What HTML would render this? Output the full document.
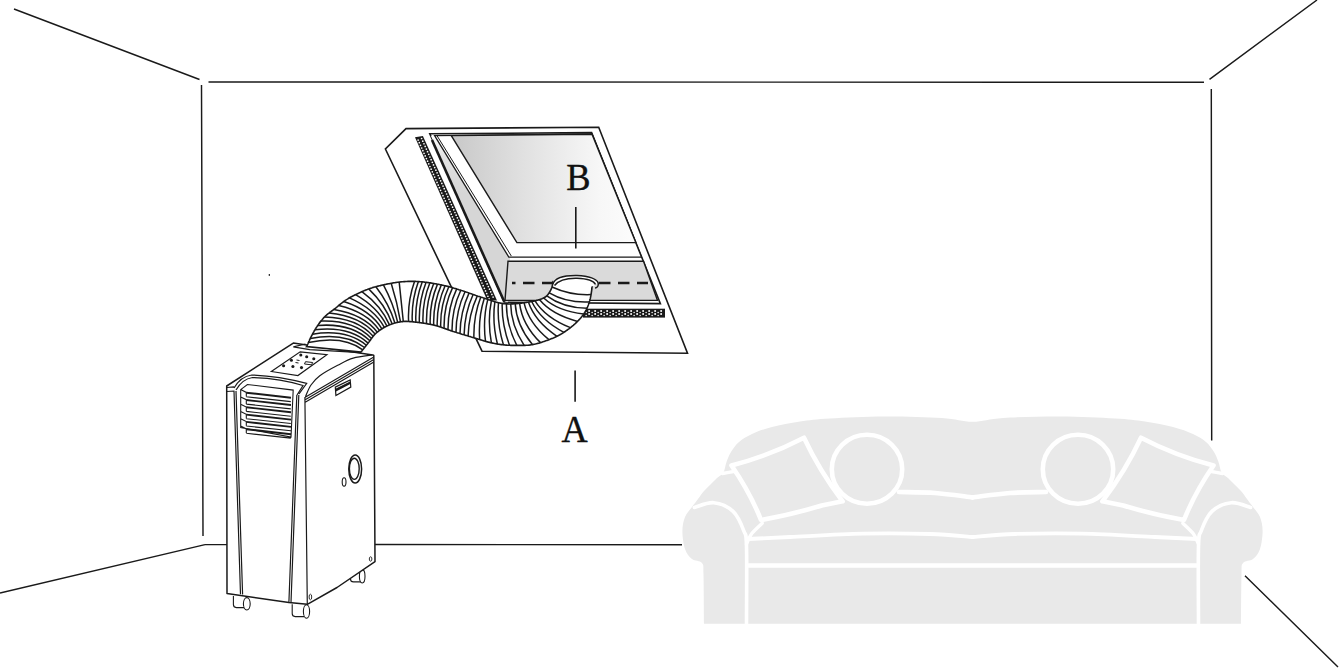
<!DOCTYPE html>
<html><head><meta charset="utf-8"><style>
html,body{margin:0;padding:0;background:#fff;width:1339px;height:671px;overflow:hidden}
svg{display:block}
</style></head><body>
<svg width="1339" height="671" viewBox="0 0 1339 671">
<path d="M14,9 L199.5,79.5 M208.5,82 L1204,82.2 M1209.5,79.3 L1317,0 M201.5,85 L203,536 M1211.3,89 L1211.7,440.5 M0,593 L205,544.6 M205,544.6 L227,544.6 M374,544.5 L682,544.8 M1245,575.8 L1338,667" stroke="#1a1a1a" stroke-width="1.45" fill="none"/>
<rect x="268.7" y="274.1" width="1.3" height="1.7" fill="#1a1a1a"/>
<path d="M704.0,623.8 C703.9,615.7 703.8,585.1 703.5,575.0 C703.2,564.9 703.9,565.7 702.0,563.0 C700.1,560.3 694.8,561.3 692.0,559.0 C689.2,556.7 686.6,553.7 685.0,549.0 C683.4,544.3 682.4,536.3 682.4,531.0 C682.4,525.7 683.4,521.0 685.0,517.0 C686.6,513.0 689.8,510.0 692.0,507.0 C694.2,504.0 696.0,501.7 698.0,499.0 C700.0,496.3 702.0,493.3 704.0,491.0 C706.0,488.7 707.8,487.2 710.0,485.0 C712.2,482.8 714.8,480.1 717.0,478.0 C719.2,475.9 721.8,475.2 723.4,472.5 C725.0,469.8 725.2,465.4 726.5,462.0 C727.8,458.6 728.9,455.3 731.0,452.0 C733.1,448.7 735.5,445.0 739.0,442.0 C742.5,439.0 746.5,436.5 752.0,434.0 C757.5,431.5 764.0,429.1 772.0,427.0 C780.0,424.9 790.3,422.9 800.0,421.5 C809.7,420.1 815.9,419.3 830.0,418.5 C844.1,417.7 865.9,416.6 884.5,416.5 C903.1,416.4 927.0,417.1 941.7,418.0 C956.4,418.9 962.2,421.8 972.5,421.8 C982.8,421.8 988.6,418.9 1003.3,418.0 C1018.0,417.1 1041.9,416.4 1060.5,416.5 C1079.1,416.6 1100.9,417.7 1115.0,418.5 C1129.1,419.3 1135.3,420.1 1145.0,421.5 C1154.7,422.9 1165.0,424.9 1173.0,427.0 C1181.0,429.1 1187.5,431.5 1193.0,434.0 C1198.5,436.5 1202.5,439.0 1206.0,442.0 C1209.5,445.0 1211.9,448.7 1214.0,452.0 C1216.1,455.3 1217.2,458.6 1218.5,462.0 C1219.8,465.4 1220.0,469.8 1221.6,472.5 C1223.2,475.2 1225.8,475.9 1228.0,478.0 C1230.2,480.1 1232.8,482.8 1235.0,485.0 C1237.2,487.2 1239.0,488.7 1241.0,491.0 C1243.0,493.3 1245.0,496.3 1247.0,499.0 C1249.0,501.7 1250.8,504.0 1253.0,507.0 C1255.2,510.0 1258.4,513.0 1260.0,517.0 C1261.6,521.0 1262.6,525.7 1262.6,531.0 C1262.6,536.3 1261.6,544.3 1260.0,549.0 C1258.4,553.7 1255.8,556.7 1253.0,559.0 C1250.2,561.3 1244.9,560.3 1243.0,563.0 C1241.1,565.7 1241.8,564.9 1241.5,575.0 C1241.2,585.1 1241.1,615.7 1241.0,623.8 Z" fill="#e9e9e9"/>
<path d="M694.4,507.5 C697.6,506.7 707.3,502.1 713.8,502.7 C720.2,503.3 728.1,506.7 733.1,511.4 C738.1,516.1 741.6,525.0 743.8,530.8 C746.0,536.6 746.0,530.8 746.5,546.3 C747.0,561.8 746.5,610.9 746.5,623.8" stroke="#ffffff" stroke-width="3.6" fill="none" stroke-linecap="round"/>
<path d="M1250.6,507.5 C1247.4,506.7 1237.7,502.1 1231.2,502.7 C1224.8,503.3 1216.9,506.7 1211.9,511.4 C1206.9,516.1 1203.4,525.0 1201.2,530.8 C1199.0,536.6 1199.0,530.8 1198.5,546.3 C1198.0,561.8 1198.5,610.9 1198.5,623.8" stroke="#ffffff" stroke-width="3.6" fill="none" stroke-linecap="round"/>
<path d="M748.0,539.0 C755.0,538.7 770.8,537.9 790.0,537.0 C809.2,536.1 839.7,534.2 863.0,533.7 C886.3,533.2 911.8,533.5 930.0,534.0 C948.2,534.5 965.4,536.5 972.5,537.0" stroke="#ffffff" stroke-width="3.8" fill="none" stroke-linecap="round"/>
<path d="M1197.0,539.0 C1190.0,538.7 1174.2,537.9 1155.0,537.0 C1135.8,536.1 1105.3,534.2 1082.0,533.7 C1058.7,533.2 1033.2,533.5 1015.0,534.0 C996.8,534.5 979.6,536.5 972.5,537.0" stroke="#ffffff" stroke-width="3.8" fill="none" stroke-linecap="round"/>
<path d="M747,565.5 L1198,565.5" stroke="#ffffff" stroke-width="4.6" fill="none"/>
<path d="M899.0,492.0 C905.0,492.2 922.8,492.1 935.0,493.0 C947.2,493.9 966.2,496.7 972.5,497.4" stroke="#ffffff" stroke-width="4.6" fill="none" stroke-linecap="round"/>
<path d="M1046.0,492.0 C1040.0,492.2 1022.2,492.1 1010.0,493.0 C997.8,493.9 978.8,496.7 972.5,497.4" stroke="#ffffff" stroke-width="4.6" fill="none" stroke-linecap="round"/>
<path d="M762.2,523.2 C760.5,524.9 754.4,530.1 751.8,533.6 C749.2,537.1 747.4,542.3 746.5,544.0" stroke="#ffffff" stroke-width="3.4" fill="none" stroke-linecap="round"/>
<path d="M1182.8,523.2 C1184.5,524.9 1190.6,530.1 1193.2,533.6 C1195.8,537.1 1197.6,542.3 1198.5,544.0" stroke="#ffffff" stroke-width="3.4" fill="none" stroke-linecap="round"/>
<path d="M722.5,473.5 C724.6,473.1 732.9,471.7 735.0,471.3" stroke="#ffffff" stroke-width="3.5" fill="none" stroke-linecap="round"/>
<path d="M1222.5,473.5 C1220.4,473.1 1212.1,471.7 1210.0,471.3" stroke="#ffffff" stroke-width="3.5" fill="none" stroke-linecap="round"/>
<path d="M731.5,465.5 Q769.75,455.6 804,437.7 Q819.3,470.5 842.6,501.3 L821.7,505.5 Q791.35,514.75 761,520 Q750.25,492.75 731.5,465.5 Z" stroke="#ffffff" stroke-width="4.6" fill="#e9e9e9" stroke-linejoin="round"/>
<g transform="translate(1945.0,0) scale(-1,1)"><path d="M731.5,465.5 Q769.75,455.6 804,437.7 Q819.3,470.5 842.6,501.3 L821.7,505.5 Q791.35,514.75 761,520 Q750.25,492.75 731.5,465.5 Z" stroke="#ffffff" stroke-width="4.6" fill="#e9e9e9" stroke-linejoin="round"/></g>
<ellipse cx="867" cy="469.2" rx="35.2" ry="34.5" stroke="#ffffff" stroke-width="4.6" fill="#e9e9e9"/>
<ellipse cx="1078.0" cy="469.2" rx="35.2" ry="34.5" stroke="#ffffff" stroke-width="4.6" fill="#e9e9e9"/>
<defs><pattern id="perf" width="3" height="3.2" patternUnits="userSpaceOnUse"><rect width="3" height="3.2" fill="#1a1a1a"/><circle cx="0.75" cy="0.8" r="0.8" fill="#fff"/><circle cx="2.25" cy="2.4" r="0.75" fill="#fff"/></pattern><pattern id="perf2" width="3" height="3.2" patternUnits="userSpaceOnUse" patternTransform="rotate(-23)"><rect width="3" height="3.2" fill="#1a1a1a"/><circle cx="0.75" cy="0.8" r="0.8" fill="#fff"/><circle cx="2.25" cy="2.4" r="0.75" fill="#fff"/></pattern><linearGradient id="glass" x1="0" y1="0" x2="1" y2="0"><stop offset="0" stop-color="#c8c8c8"/><stop offset="0.38" stop-color="#e0e0e0"/><stop offset="0.8" stop-color="#f7f7f7"/><stop offset="1" stop-color="#fcfcfc"/></linearGradient></defs>
<polygon points="406,128.6 598.7,127.2 687.5,353.3 482,351.2 385.4,149" fill="#fff" stroke="#1a1a1a" stroke-width="1.6" stroke-linejoin="miter"/>
<polygon points="415,137.3 422.9,136.1 497,300.5 487.3,300.5" fill="#1a1a1a"/>
<g fill="#fff"><circle cx="421.59" cy="138.48" r="0.85"/><circle cx="418.12" cy="140.04" r="0.85"/><circle cx="422.78" cy="141.13" r="0.85"/><circle cx="419.30" cy="142.69" r="0.85"/><circle cx="423.97" cy="143.77" r="0.85"/><circle cx="420.49" cy="145.33" r="0.85"/><circle cx="425.16" cy="146.41" r="0.85"/><circle cx="421.67" cy="147.98" r="0.85"/><circle cx="426.35" cy="149.06" r="0.85"/><circle cx="422.85" cy="150.63" r="0.85"/><circle cx="427.55" cy="151.70" r="0.85"/><circle cx="424.03" cy="153.28" r="0.85"/><circle cx="428.74" cy="154.35" r="0.85"/><circle cx="425.22" cy="155.92" r="0.85"/><circle cx="429.93" cy="156.99" r="0.85"/><circle cx="426.40" cy="158.57" r="0.85"/><circle cx="431.12" cy="159.63" r="0.85"/><circle cx="427.58" cy="161.22" r="0.85"/><circle cx="432.31" cy="162.28" r="0.85"/><circle cx="428.77" cy="163.87" r="0.85"/><circle cx="433.50" cy="164.92" r="0.85"/><circle cx="429.95" cy="166.52" r="0.85"/><circle cx="434.70" cy="167.56" r="0.85"/><circle cx="431.13" cy="169.16" r="0.85"/><circle cx="435.89" cy="170.21" r="0.85"/><circle cx="432.31" cy="171.81" r="0.85"/><circle cx="437.08" cy="172.85" r="0.85"/><circle cx="433.50" cy="174.46" r="0.85"/><circle cx="438.27" cy="175.50" r="0.85"/><circle cx="434.68" cy="177.11" r="0.85"/><circle cx="439.46" cy="178.14" r="0.85"/><circle cx="435.86" cy="179.76" r="0.85"/><circle cx="440.65" cy="180.78" r="0.85"/><circle cx="437.04" cy="182.40" r="0.85"/><circle cx="441.85" cy="183.43" r="0.85"/><circle cx="438.23" cy="185.05" r="0.85"/><circle cx="443.04" cy="186.07" r="0.85"/><circle cx="439.41" cy="187.70" r="0.85"/><circle cx="444.23" cy="188.72" r="0.85"/><circle cx="440.59" cy="190.35" r="0.85"/><circle cx="445.42" cy="191.36" r="0.85"/><circle cx="441.78" cy="193.00" r="0.85"/><circle cx="446.61" cy="194.00" r="0.85"/><circle cx="442.96" cy="195.64" r="0.85"/><circle cx="447.80" cy="196.65" r="0.85"/><circle cx="444.14" cy="198.29" r="0.85"/><circle cx="449.00" cy="199.29" r="0.85"/><circle cx="445.32" cy="200.94" r="0.85"/><circle cx="450.19" cy="201.94" r="0.85"/><circle cx="446.51" cy="203.59" r="0.85"/><circle cx="451.38" cy="204.58" r="0.85"/><circle cx="447.69" cy="206.23" r="0.85"/><circle cx="452.57" cy="207.22" r="0.85"/><circle cx="448.87" cy="208.88" r="0.85"/><circle cx="453.76" cy="209.87" r="0.85"/><circle cx="450.05" cy="211.53" r="0.85"/><circle cx="454.95" cy="212.51" r="0.85"/><circle cx="451.24" cy="214.18" r="0.85"/><circle cx="456.14" cy="215.15" r="0.85"/><circle cx="452.42" cy="216.83" r="0.85"/><circle cx="457.34" cy="217.80" r="0.85"/><circle cx="453.60" cy="219.47" r="0.85"/><circle cx="458.53" cy="220.44" r="0.85"/><circle cx="454.79" cy="222.12" r="0.85"/><circle cx="459.72" cy="223.09" r="0.85"/><circle cx="455.97" cy="224.77" r="0.85"/><circle cx="460.91" cy="225.73" r="0.85"/><circle cx="457.15" cy="227.42" r="0.85"/><circle cx="462.10" cy="228.37" r="0.85"/><circle cx="458.33" cy="230.07" r="0.85"/><circle cx="463.29" cy="231.02" r="0.85"/><circle cx="459.52" cy="232.71" r="0.85"/><circle cx="464.49" cy="233.66" r="0.85"/><circle cx="460.70" cy="235.36" r="0.85"/><circle cx="465.68" cy="236.31" r="0.85"/><circle cx="461.88" cy="238.01" r="0.85"/><circle cx="466.87" cy="238.95" r="0.85"/><circle cx="463.06" cy="240.66" r="0.85"/><circle cx="468.06" cy="241.59" r="0.85"/><circle cx="464.25" cy="243.30" r="0.85"/><circle cx="469.25" cy="244.24" r="0.85"/><circle cx="465.43" cy="245.95" r="0.85"/><circle cx="470.44" cy="246.88" r="0.85"/><circle cx="466.61" cy="248.60" r="0.85"/><circle cx="471.64" cy="249.53" r="0.85"/><circle cx="467.79" cy="251.25" r="0.85"/><circle cx="472.83" cy="252.17" r="0.85"/><circle cx="468.98" cy="253.90" r="0.85"/><circle cx="474.02" cy="254.81" r="0.85"/><circle cx="470.16" cy="256.54" r="0.85"/><circle cx="475.21" cy="257.46" r="0.85"/><circle cx="471.34" cy="259.19" r="0.85"/><circle cx="476.40" cy="260.10" r="0.85"/><circle cx="472.53" cy="261.84" r="0.85"/><circle cx="477.59" cy="262.74" r="0.85"/><circle cx="473.71" cy="264.49" r="0.85"/><circle cx="478.79" cy="265.39" r="0.85"/><circle cx="474.89" cy="267.14" r="0.85"/><circle cx="479.98" cy="268.03" r="0.85"/><circle cx="476.07" cy="269.78" r="0.85"/><circle cx="481.17" cy="270.68" r="0.85"/><circle cx="477.26" cy="272.43" r="0.85"/><circle cx="482.36" cy="273.32" r="0.85"/><circle cx="478.44" cy="275.08" r="0.85"/><circle cx="483.55" cy="275.96" r="0.85"/><circle cx="479.62" cy="277.73" r="0.85"/><circle cx="484.74" cy="278.61" r="0.85"/><circle cx="480.80" cy="280.38" r="0.85"/><circle cx="485.93" cy="281.25" r="0.85"/><circle cx="481.99" cy="283.02" r="0.85"/><circle cx="487.13" cy="283.90" r="0.85"/><circle cx="483.17" cy="285.67" r="0.85"/><circle cx="488.32" cy="286.54" r="0.85"/><circle cx="484.35" cy="288.32" r="0.85"/><circle cx="489.51" cy="289.18" r="0.85"/><circle cx="485.54" cy="290.97" r="0.85"/><circle cx="490.70" cy="291.83" r="0.85"/><circle cx="486.72" cy="293.61" r="0.85"/><circle cx="491.89" cy="294.47" r="0.85"/><circle cx="487.90" cy="296.26" r="0.85"/><circle cx="493.08" cy="297.11" r="0.85"/><circle cx="489.08" cy="298.91" r="0.85"/></g>
<rect x="583" y="308.7" width="82" height="8.9" fill="#1a1a1a"/>
<g fill="#fff"><circle cx="583.10" cy="310.9" r="1.0"/><circle cx="583.10" cy="314.1" r="1.0"/><circle cx="586.10" cy="312.5" r="0.75"/><circle cx="586.10" cy="315.6" r="0.75"/><circle cx="589.10" cy="310.9" r="1.0"/><circle cx="589.10" cy="314.1" r="1.0"/><circle cx="592.10" cy="312.5" r="0.75"/><circle cx="592.10" cy="315.6" r="0.75"/><circle cx="595.10" cy="310.9" r="1.0"/><circle cx="595.10" cy="314.1" r="1.0"/><circle cx="598.10" cy="312.5" r="0.75"/><circle cx="598.10" cy="315.6" r="0.75"/><circle cx="601.10" cy="310.9" r="1.0"/><circle cx="601.10" cy="314.1" r="1.0"/><circle cx="604.10" cy="312.5" r="0.75"/><circle cx="604.10" cy="315.6" r="0.75"/><circle cx="607.10" cy="310.9" r="1.0"/><circle cx="607.10" cy="314.1" r="1.0"/><circle cx="610.10" cy="312.5" r="0.75"/><circle cx="610.10" cy="315.6" r="0.75"/><circle cx="613.10" cy="310.9" r="1.0"/><circle cx="613.10" cy="314.1" r="1.0"/><circle cx="616.10" cy="312.5" r="0.75"/><circle cx="616.10" cy="315.6" r="0.75"/><circle cx="619.10" cy="310.9" r="1.0"/><circle cx="619.10" cy="314.1" r="1.0"/><circle cx="622.10" cy="312.5" r="0.75"/><circle cx="622.10" cy="315.6" r="0.75"/><circle cx="625.10" cy="310.9" r="1.0"/><circle cx="625.10" cy="314.1" r="1.0"/><circle cx="628.10" cy="312.5" r="0.75"/><circle cx="628.10" cy="315.6" r="0.75"/><circle cx="631.10" cy="310.9" r="1.0"/><circle cx="631.10" cy="314.1" r="1.0"/><circle cx="634.10" cy="312.5" r="0.75"/><circle cx="634.10" cy="315.6" r="0.75"/><circle cx="637.10" cy="310.9" r="1.0"/><circle cx="637.10" cy="314.1" r="1.0"/><circle cx="640.10" cy="312.5" r="0.75"/><circle cx="640.10" cy="315.6" r="0.75"/><circle cx="643.10" cy="310.9" r="1.0"/><circle cx="643.10" cy="314.1" r="1.0"/><circle cx="646.10" cy="312.5" r="0.75"/><circle cx="646.10" cy="315.6" r="0.75"/><circle cx="649.10" cy="310.9" r="1.0"/><circle cx="649.10" cy="314.1" r="1.0"/><circle cx="652.10" cy="312.5" r="0.75"/><circle cx="652.10" cy="315.6" r="0.75"/><circle cx="655.10" cy="310.9" r="1.0"/><circle cx="655.10" cy="314.1" r="1.0"/><circle cx="658.10" cy="312.5" r="0.75"/><circle cx="658.10" cy="315.6" r="0.75"/><circle cx="661.10" cy="310.9" r="1.0"/><circle cx="661.10" cy="314.1" r="1.0"/></g>
<polygon points="429.8,133.8 591.6,132.6 660.4,303.6 504.4,302.2" fill="#fff" stroke="#1a1a1a" stroke-width="1.6"/>
<defs><linearGradient id="wedge" x1="0" y1="0" x2="0" y2="1"><stop offset="0" stop-color="#fff"/><stop offset="0.12" stop-color="#e2e2e2"/><stop offset="0.35" stop-color="#d6d6d6"/><stop offset="1" stop-color="#d6d6d6"/></linearGradient></defs>
<polygon points="431,136 445,136 510,258 508,302.2 504.4,302.2" fill="url(#wedge)"/>
<path d="M432,140 L504.4,302" stroke="#1a1a1a" stroke-width="2.6"/>
<polygon points="434.6,135.6 592,134.2 641.5,257.1 508.8,257.1" fill="#fff" stroke="#1a1a1a" stroke-width="1.3"/>
<path d="M437.2,136 L511.3,256" stroke="#1a1a1a" stroke-width="1"/>
<polygon points="451.3,135.6 592,134.2 635.8,242.6 516.9,242.6" fill="url(#glass)" stroke="#1a1a1a" stroke-width="1.4"/>
<polygon points="508,261.2 643.5,261.2 657.5,300.4 505,300.4" fill="#dadada" stroke="#1a1a1a" stroke-width="1.4"/>
<path d="M512,283 L648,283" stroke="#1a1a1a" stroke-width="2.3" stroke-dasharray="11.5,7.5" stroke-dashoffset="8"/>
<path d="M575.8,207 L575.8,248.5 M575.1,370.4 L575.1,401.7" stroke="#1a1a1a" stroke-width="1.6"/>
<text transform="translate(566.3,189.6) scale(0.96,1)" x="0" y="0" font-family="Liberation Serif" font-size="38" fill="#111" stroke="#111" stroke-width="0.35">B</text>
<text transform="translate(561.6,441.9) scale(0.93,1)" x="0" y="0" font-family="Liberation Serif" font-size="39" fill="#111" stroke="#111" stroke-width="0.35">A</text>
<path d="M351.5,579.9 L355.5,579.9" stroke="#1a1a1a" stroke-width="1.2"/>
<ellipse cx="362.2" cy="576.3" rx="2.8" ry="6.7" fill="#fff" stroke="#1a1a1a" stroke-width="1.1"/>
<path d="M350.5,569.6 L350.5,578.9 Q350.5,581.9 353.5,581.9 L360,581.9" fill="#fff" stroke="#1a1a1a" stroke-width="1.1"/>
<path d="M293.2,614.6 L297.2,614.6" stroke="#1a1a1a" stroke-width="1.2"/>
<ellipse cx="306.5" cy="611.5" rx="3.1" ry="6.8" fill="#fff" stroke="#1a1a1a" stroke-width="1.1"/>
<path d="M292.2,604.3 L292.2,613.6 Q292.2,616.6 295.2,616.6 L304,616.6" fill="#fff" stroke="#1a1a1a" stroke-width="1.1"/>
<path d="M234.4,605.6 L238.4,605.6" stroke="#1a1a1a" stroke-width="1.2"/>
<ellipse cx="246.8" cy="603.8" rx="3.4" ry="6.2" fill="#fff" stroke="#1a1a1a" stroke-width="1.1"/>
<path d="M233.4,596 L233.4,604.6 Q233.4,607.6 236.4,607.6 L244,607.6" fill="#fff" stroke="#1a1a1a" stroke-width="1.1"/>
<polygon points="226.7,386 293.3,343.1 372.8,354.9 373.8,355.5 375,561.7 337,587.5 307.3,604.3 288.9,602.6 227,593.6" fill="#fff" stroke="#1a1a1a" stroke-width="1.5" stroke-linejoin="round"/>
<path d="M226.7,387.5 L234,386.8 M226.7,391.5 L234.5,391 M305.2,397.2 L373.4,357.3 M305.2,399.8 L373.4,359.8 M305.2,402.3 L373.4,362.2 M304.9,397 L307.3,604.3 M305.5,396.5 C306.4,394.6 308.6,388.4 311.0,385.0 C313.4,381.6 315.4,379.1 319.8,375.8 C324.2,372.5 332.1,368.2 337.7,365.3 C343.3,362.4 347.4,359.9 353.2,358.2 C358.9,356.5 369.0,355.5 372.2,355.0 M271.3,371.5 L300.2,351.8 L326.9,354.7 L297.9,375.5 Z M234,391 L240.5,594.3 M236,391 L242.6,594.6 M296.8,395 L288.9,602.4 M298.8,395 L291,602.6 M234,388 C238,381 244,376 251.8,375 C270,375.5 290,379 306.7,383.4 L299,394 M236,390 C240,383 246,378.5 252.5,377.5 C270,378 289,381 303,385.5 L297,395 M335.3,387.1 L350.2,380 L350.8,387.1 L335.9,395.4 Z M293.3,346.8 L309.7,349.6 L361,352.6 M293.3,346.8 L305.5,344" stroke="#1a1a1a" stroke-width="1.2" fill="none"/>
<path d="M336,388.5 L350,381.5 L350.3,384 L336,391.5 Z" fill="#1a1a1a"/>
<path d="M240.7,389.6 L247.4,384.5 L293.2,390.1 L291,437 L240.7,427.6 Z M240.7,389.59999999999997 L246.3,392.4 L246.3,396.59999999999997 M246.3,396.79999999999995 L290.8,401.59999999999997 M240.7,396.9 L246.3,399.7 L246.3,403.9 M246.3,404.09999999999997 L290.8,408.9 M240.7,404.2 L246.3,407.0 L246.3,411.2 M246.3,411.4 L290.8,416.2 M240.7,411.49999999999994 L246.3,414.29999999999995 L246.3,418.49999999999994 M246.3,418.69999999999993 L290.8,423.49999999999994 M240.7,418.79999999999995 L246.3,421.59999999999997 L246.3,425.79999999999995 M246.3,425.99999999999994 L290.8,430.79999999999995 M240.7,426.09999999999997 L246.3,428.9 L246.3,433.09999999999997 M246.3,433.29999999999995 L290.8,438.09999999999997" stroke="#1a1a1a" stroke-width="1.1" fill="none"/>
<path d="M246.3,392.7 L291,397.7 M246.3,400.0 L291,405.0 M246.3,407.3 L291,412.3 M246.3,414.59999999999997 L291,419.59999999999997 M246.3,421.9 L291,426.9 M246.3,429.2 L291,434.2" stroke="#1a1a1a" stroke-width="1.9" fill="none"/>
<ellipse cx="355.2" cy="469" rx="6.4" ry="14" fill="none" stroke="#1a1a1a" stroke-width="1.5"/>
<ellipse cx="354.3" cy="468.8" rx="4.9" ry="10.6" fill="none" stroke="#1a1a1a" stroke-width="1.4"/>
<ellipse cx="344.1" cy="481.9" rx="1.9" ry="4.2" fill="none" stroke="#1a1a1a" stroke-width="1.1"/>
<ellipse cx="370.6" cy="559" rx="1.3" ry="2.2" fill="none" stroke="#1a1a1a" stroke-width="0.9"/>
<ellipse cx="310.4" cy="597" rx="1.3" ry="2.8" fill="none" stroke="#1a1a1a" stroke-width="0.9"/>
<circle cx="300.8" cy="355" r="1.55" fill="#1a1a1a"/><circle cx="306.7" cy="356.8" r="1.55" fill="#1a1a1a"/><circle cx="313.8" cy="358.7" r="1.55" fill="#1a1a1a"/><circle cx="291.4" cy="360.2" r="1.55" fill="#1a1a1a"/><circle cx="283.6" cy="365.8" r="1.55" fill="#1a1a1a"/><circle cx="292.9" cy="366.5" r="1.55" fill="#1a1a1a"/><circle cx="301.5" cy="367.6" r="1.55" fill="#1a1a1a"/>
<path d="M296.5,360 L299.5,360.5 M295.5,362.5 L298.5,363 M305.5,361.7 L312.7,362.5 L311.5,364.8 L304.5,364 Z" stroke="#1a1a1a" stroke-width="1" fill="none"/>
<path d="M306.7,346.6 L306.8,346.5 L306.8,346.3 L306.9,346.2 L306.9,346.0 L307.0,345.9 L307.1,345.7 L307.2,345.5 L307.3,345.3 L307.3,345.1 L307.4,344.9 L307.5,344.7 L307.6,344.5 L307.7,344.2 L307.8,344.0 L307.9,343.8 L308.0,343.5 L308.1,343.3 L308.2,343.0 L308.3,342.7 L308.5,342.5 L308.6,342.2 L308.7,341.9 L308.8,341.7 L308.9,341.4 L309.1,341.1 L309.2,340.8 L309.3,340.6 L309.4,340.3 L309.6,340.0 L309.7,339.7 L309.8,339.4 L309.9,339.2 L310.1,338.9 L310.2,338.6 L310.3,338.3 L310.5,338.1 L310.6,337.8 L310.7,337.5 L310.9,337.3 L311.0,337.0 L311.1,336.7 L311.3,336.5 L311.4,336.2 L311.5,336.0 L311.7,335.7 L311.8,335.4 L312.0,335.2 L312.1,334.9 L312.2,334.6 L312.4,334.4 L312.5,334.1 L312.7,333.8 L312.8,333.5 L313.0,333.3 L313.1,333.0 L313.3,332.7 L313.4,332.4 L313.6,332.2 L313.7,331.9 L313.9,331.6 L314.0,331.3 L314.2,331.1 L314.4,330.8 L314.5,330.5 L314.7,330.2 L314.8,329.9 L315.0,329.7 L315.2,329.4 L315.3,329.1 L315.5,328.9 L315.7,328.6 L315.8,328.3 L316.0,328.0 L316.2,327.8 L316.3,327.5 L316.5,327.2 L316.7,327.0 L316.9,326.7 L317.0,326.5 L317.2,326.2 L317.4,325.9 L317.6,325.7 L317.7,325.4 L317.9,325.2 L318.1,324.9 L318.3,324.7 L318.4,324.4 L318.6,324.2 L318.8,323.9 L319.0,323.6 L319.2,323.4 L319.4,323.1 L319.6,322.9 L319.7,322.6 L319.9,322.4 L320.1,322.1 L320.3,321.9 L320.5,321.6 L320.7,321.4 L320.9,321.1 L321.1,320.9 L321.3,320.7 L321.5,320.4 L321.7,320.2 L321.9,319.9 L322.1,319.7 L322.3,319.5 L322.5,319.2 L322.7,319.0 L322.9,318.7 L323.1,318.5 L323.3,318.3 L323.5,318.1 L323.7,317.8 L323.9,317.6 L324.1,317.4 L324.4,317.2 L324.6,316.9 L324.8,316.7 L325.0,316.5 L325.2,316.3 L325.4,316.1 L325.6,315.9 L325.9,315.7 L326.1,315.5 L326.3,315.3 L326.5,315.1 L326.7,314.9 L326.9,314.7 L327.1,314.5 L327.3,314.4 L327.6,314.2 L327.8,314.0 L328.0,313.8 L328.2,313.7 L328.4,313.5 L328.7,313.3 L328.9,313.1 L329.1,313.0 L329.3,312.8 L329.6,312.6 L329.8,312.4 L330.0,312.3 L330.2,312.1 L330.5,311.9 L330.7,311.8 L331.0,311.6 L331.2,311.4 L331.5,311.2 L331.7,311.0 L332.0,310.8 L332.2,310.7 L332.5,310.5 L332.7,310.3 L333.0,310.1 L333.3,309.9 L333.5,309.6 L333.8,309.4 L334.1,309.2 L334.4,309.0 L334.7,308.8 L335.0,308.5 L335.3,308.3 L335.6,308.1 L335.9,307.8 L336.2,307.6 L336.5,307.3 L336.8,307.1 L337.1,306.8 L337.4,306.6 L337.7,306.3 L338.0,306.1 L338.3,305.8 L338.6,305.5 L339.0,305.3 L339.3,305.0 L339.6,304.7 L339.9,304.5 L340.3,304.2 L340.6,303.9 L340.9,303.7 L341.3,303.4 L341.6,303.1 L342.0,302.8 L342.3,302.6 L342.7,302.3 L343.1,302.0 L343.4,301.8 L343.8,301.5 L344.2,301.2 L344.5,300.9 L344.9,300.7 L345.3,300.4 L345.7,300.1 L346.1,299.9 L346.5,299.6 L346.9,299.4 L347.4,299.1 L347.8,298.9 L348.2,298.6 L348.6,298.3 L349.1,298.1 L349.5,297.8 L350.0,297.6 L350.4,297.3 L350.9,297.1 L351.4,296.8 L351.8,296.6 L352.3,296.3 L352.8,296.0 L353.3,295.8 L353.8,295.5 L354.3,295.3 L354.8,295.0 L355.3,294.7 L355.8,294.5 L356.4,294.2 L356.9,294.0 L357.4,293.7 L357.9,293.5 L358.5,293.2 L359.0,293.0 L359.5,292.7 L360.1,292.5 L360.6,292.2 L361.1,292.0 L361.7,291.7 L362.2,291.5 L362.8,291.3 L363.3,291.0 L363.9,290.8 L364.4,290.6 L365.0,290.4 L365.5,290.1 L366.1,289.9 L366.6,289.7 L367.2,289.5 L367.7,289.3 L368.3,289.1 L368.8,288.9 L369.3,288.7 L369.9,288.5 L370.5,288.3 L371.0,288.2 L371.6,288.0 L372.2,287.8 L372.7,287.6 L373.3,287.4 L373.9,287.3 L374.5,287.1 L375.1,286.9 L375.6,286.8 L376.2,286.6 L376.8,286.5 L377.4,286.3 L378.0,286.1 L378.6,286.0 L379.2,285.8 L379.8,285.7 L380.4,285.6 L381.0,285.4 L381.6,285.3 L382.2,285.1 L382.8,285.0 L383.3,284.9 L383.9,284.7 L384.5,284.6 L385.1,284.5 L385.7,284.4 L386.2,284.3 L386.8,284.1 L387.4,284.0 L387.9,283.9 L388.5,283.8 L389.0,283.7 L389.6,283.6 L390.1,283.5 L390.7,283.4 L391.2,283.3 L391.7,283.2 L392.2,283.1 L392.7,283.0 L393.2,282.9 L393.7,282.8 L394.2,282.8 L394.7,282.7 L395.2,282.6 L395.6,282.5 L396.1,282.5 L396.6,282.4 L397.0,282.3 L397.5,282.3 L398.0,282.2 L398.4,282.2 L398.9,282.1 L399.3,282.1 L399.8,282.0 L400.2,282.0 L400.7,281.9 L401.1,281.9 L401.5,281.8 L402.0,281.8 L402.4,281.7 L402.9,281.7 L403.3,281.7 L403.7,281.6 L404.2,281.6 L404.6,281.6 L405.0,281.6 L405.5,281.5 L405.9,281.5 L406.4,281.5 L406.8,281.5 L407.3,281.5 L407.7,281.4 L408.2,281.4 L408.6,281.4 L409.1,281.4 L409.5,281.4 L410.0,281.4 L410.5,281.4 L410.9,281.4 L411.4,281.4 L411.9,281.4 L412.3,281.4 L412.8,281.4 L413.2,281.4 L413.7,281.4 L414.1,281.4 L414.6,281.4 L415.1,281.4 L415.5,281.4 L416.0,281.5 L416.4,281.5 L416.9,281.5 L417.3,281.5 L417.8,281.5 L418.3,281.6 L418.7,281.6 L419.2,281.6 L419.7,281.7 L420.1,281.7 L420.6,281.7 L421.1,281.8 L421.5,281.8 L422.0,281.9 L422.5,281.9 L423.0,281.9 L423.4,282.0 L423.9,282.0 L424.4,282.1 L424.9,282.2 L425.4,282.2 L425.9,282.3 L426.4,282.3 L426.9,282.4 L427.4,282.5 L428.0,282.6 L428.5,282.6 L429.0,282.7 L429.5,282.8 L430.1,282.9 L430.6,282.9 L431.1,283.0 L431.7,283.1 L432.2,283.2 L432.8,283.3 L433.3,283.4 L433.9,283.5 L434.4,283.6 L435.0,283.7 L435.5,283.8 L436.1,283.9 L436.7,284.0 L437.2,284.1 L437.8,284.2 L438.4,284.3 L438.9,284.4 L439.5,284.5 L440.1,284.7 L440.7,284.8 L441.3,284.9 L441.9,285.0 L442.5,285.2 L443.1,285.3 L443.6,285.4 L444.2,285.6 L444.9,285.7 L445.5,285.8 L446.1,286.0 L446.7,286.1 L447.3,286.3 L447.9,286.4 L448.5,286.6 L449.1,286.8 L449.8,286.9 L450.4,287.1 L451.0,287.3 L451.7,287.4 L452.3,287.6 L452.9,287.8 L453.6,288.0 L454.2,288.2 L454.9,288.4 L455.6,288.6 L456.3,288.8 L456.9,289.0 L457.6,289.2 L458.3,289.4 L459.0,289.7 L459.7,289.9 L460.4,290.1 L461.1,290.4 L461.8,290.6 L462.6,290.8 L463.3,291.1 L464.0,291.3 L464.7,291.6 L465.4,291.8 L466.1,292.1 L466.9,292.3 L467.6,292.6 L468.3,292.8 L469.0,293.1 L469.7,293.3 L470.4,293.6 L471.2,293.8 L471.9,294.1 L472.6,294.3 L473.3,294.6 L474.0,294.8 L474.7,295.0 L475.4,295.3 L476.0,295.5 L476.7,295.7 L477.4,296.0 L478.0,296.2 L478.7,296.4 L479.4,296.6 L480.0,296.8 L480.6,297.0 L481.3,297.2 L481.9,297.4 L482.5,297.6 L483.1,297.8 L483.8,298.0 L484.4,298.2 L485.0,298.4 L485.6,298.6 L486.2,298.9 L486.8,299.1 L487.4,299.3 L488.0,299.5 L488.6,299.7 L489.1,299.9 L489.7,300.1 L490.3,300.3 L490.9,300.5 L491.5,300.7 L492.0,300.8 L492.6,301.0 L493.2,301.2 L493.8,301.4 L494.3,301.6 L494.9,301.7 L495.5,301.9 L496.0,302.1 L496.6,302.2 L497.2,302.4 L497.7,302.5 L498.3,302.7 L498.9,302.8 L499.4,302.9 L500.0,303.0 L500.6,303.1 L501.1,303.3 L501.7,303.3 L502.3,303.4 L502.8,303.5 L503.4,303.6 L504.0,303.7 L504.5,303.7 L505.1,303.8 L505.7,303.8 L506.3,303.9 L506.8,303.9 L507.4,303.9 L508.0,303.9 L508.6,304.0 L509.2,304.0 L509.7,304.0 L510.3,304.0 L510.9,303.9 L511.5,303.9 L512.0,303.9 L512.6,303.9 L513.2,303.9 L513.8,303.8 L514.3,303.8 L514.9,303.8 L515.5,303.7 L516.0,303.7 L516.6,303.6 L517.1,303.6 L517.7,303.5 L518.3,303.5 L518.8,303.4 L519.4,303.3 L519.9,303.3 L520.5,303.2 L521.0,303.1 L521.5,303.1 L522.1,303.0 L522.6,302.9 L523.1,302.9 L523.7,302.8 L524.2,302.7 L524.7,302.6 L525.2,302.6 L525.7,302.5 L526.2,302.4 L526.7,302.4 L527.2,302.3 L527.7,302.2 L528.2,302.1 L528.7,302.0 L529.2,302.0 L529.7,301.9 L530.2,301.8 L530.7,301.7 L531.2,301.6 L531.7,301.5 L532.2,301.4 L532.7,301.3 L533.2,301.2 L533.7,301.1 L534.2,301.0 L534.7,300.9 L535.1,300.8 L535.6,300.7 L536.1,300.6 L536.5,300.5 L537.0,300.3 L537.4,300.2 L537.9,300.1 L538.3,300.0 L538.7,299.8 L539.2,299.7 L539.6,299.6 L540.0,299.5 L540.4,299.3 L540.8,299.2 L541.2,299.0 L541.5,298.9 L541.9,298.8 L542.3,298.6 L542.6,298.5 L543.0,298.3 L543.3,298.2 L543.6,298.0 L543.9,297.8 L544.2,297.7 L544.5,297.5 L544.8,297.3 L545.0,297.2 L545.3,297.0 L545.6,296.8 L545.8,296.6 L546.0,296.4 L546.3,296.3 L546.5,296.1 L546.7,295.9 L546.9,295.7 L547.1,295.5 L547.3,295.3 L547.5,295.1 L547.7,294.9 L547.8,294.7 L548.0,294.4 L548.2,294.2 L548.3,294.0 L548.5,293.8 L548.6,293.6 L548.8,293.4 L548.9,293.2 L549.1,293.0 L549.2,292.7 L549.3,292.5 L549.5,292.3 L549.6,292.1 L549.7,291.9 L549.8,291.7 L550.0,291.5 L550.1,291.2 L550.2,291.0 L550.3,290.8 L550.4,290.6 L550.6,290.4 L550.7,290.2 L550.8,290.0 L550.9,289.8 L551.0,289.6 L551.1,289.4 L551.2,289.1 L551.3,288.9 L551.4,288.7 L551.5,288.5 L551.6,288.2 L551.7,288.0 L551.8,287.8 L551.8,287.5 L551.9,287.3 L552.0,287.0 L552.1,286.8 L552.1,286.5 L552.2,286.3 L552.2,286.1 L552.3,285.8 L552.3,285.6 L552.4,285.3 L552.4,285.1 L552.5,284.9 L552.5,284.7 L552.6,284.4 L552.6,284.2 L552.7,284.0 L552.7,283.8 L552.7,283.6 L552.8,283.4 L552.8,283.2 L552.8,283.0 L552.9,282.8 L552.9,282.7 L552.9,282.5 L553.0,282.3 L553.0,282.2 L553.0,282.1 L553.0,281.9 L553.1,281.8 L553.1,281.7 L592.3,285.0 L592.3,285.2 L592.2,285.4 L592.2,285.6 L592.2,285.9 L592.1,286.1 L592.1,286.4 L592.1,286.7 L592.0,287.0 L592.0,287.3 L592.0,287.7 L591.9,288.0 L591.9,288.3 L591.8,288.7 L591.8,289.1 L591.8,289.5 L591.7,289.8 L591.7,290.2 L591.6,290.6 L591.6,291.1 L591.5,291.5 L591.4,291.9 L591.4,292.3 L591.3,292.7 L591.3,293.1 L591.2,293.6 L591.1,294.0 L591.1,294.4 L591.0,294.8 L590.9,295.3 L590.9,295.7 L590.8,296.1 L590.7,296.5 L590.6,296.9 L590.5,297.3 L590.5,297.7 L590.4,298.1 L590.3,298.5 L590.2,298.9 L590.1,299.2 L590.0,299.6 L589.9,299.9 L589.8,300.3 L589.7,300.6 L589.6,301.0 L589.5,301.3 L589.4,301.7 L589.3,302.0 L589.2,302.4 L589.1,302.7 L589.0,303.1 L588.8,303.4 L588.7,303.7 L588.6,304.1 L588.5,304.4 L588.4,304.8 L588.3,305.1 L588.1,305.4 L588.0,305.8 L587.9,306.1 L587.8,306.4 L587.6,306.8 L587.5,307.1 L587.3,307.4 L587.2,307.8 L587.0,308.1 L586.9,308.4 L586.7,308.8 L586.6,309.1 L586.4,309.4 L586.3,309.8 L586.1,310.1 L585.9,310.4 L585.7,310.7 L585.6,311.1 L585.4,311.4 L585.2,311.7 L585.0,312.0 L584.8,312.4 L584.6,312.7 L584.4,313.0 L584.2,313.3 L584.0,313.6 L583.8,314.0 L583.5,314.3 L583.3,314.6 L583.1,314.9 L582.9,315.2 L582.6,315.5 L582.4,315.9 L582.1,316.2 L581.9,316.5 L581.7,316.8 L581.4,317.1 L581.1,317.4 L580.9,317.7 L580.6,318.1 L580.4,318.4 L580.1,318.7 L579.8,319.0 L579.5,319.3 L579.3,319.6 L579.0,319.9 L578.7,320.2 L578.4,320.5 L578.1,320.8 L577.8,321.1 L577.5,321.4 L577.2,321.7 L576.9,322.0 L576.6,322.3 L576.3,322.6 L576.0,322.9 L575.7,323.2 L575.3,323.5 L575.0,323.8 L574.7,324.1 L574.3,324.4 L574.0,324.7 L573.6,325.0 L573.3,325.3 L572.9,325.6 L572.6,325.9 L572.2,326.2 L571.9,326.5 L571.5,326.8 L571.1,327.1 L570.8,327.4 L570.4,327.7 L570.0,328.0 L569.6,328.3 L569.2,328.6 L568.9,328.8 L568.5,329.1 L568.1,329.4 L567.7,329.7 L567.3,330.0 L566.9,330.3 L566.4,330.6 L566.0,330.9 L565.6,331.2 L565.2,331.5 L564.8,331.8 L564.3,332.0 L563.9,332.3 L563.5,332.6 L563.0,332.9 L562.6,333.2 L562.1,333.4 L561.7,333.7 L561.2,334.0 L560.8,334.2 L560.3,334.5 L559.8,334.8 L559.4,335.0 L558.9,335.3 L558.4,335.5 L558.0,335.8 L557.5,336.0 L557.0,336.3 L556.5,336.5 L556.0,336.7 L555.5,337.0 L555.0,337.2 L554.5,337.4 L553.9,337.7 L553.4,337.9 L552.8,338.2 L552.3,338.4 L551.7,338.6 L551.2,338.8 L550.6,339.1 L550.0,339.3 L549.5,339.5 L548.9,339.7 L548.3,340.0 L547.7,340.2 L547.1,340.4 L546.5,340.6 L545.9,340.8 L545.3,341.0 L544.7,341.2 L544.1,341.4 L543.6,341.6 L543.0,341.8 L542.4,342.0 L541.8,342.2 L541.2,342.4 L540.6,342.6 L540.0,342.7 L539.5,342.9 L538.9,343.1 L538.3,343.2 L537.8,343.4 L537.2,343.5 L536.7,343.7 L536.2,343.8 L535.6,343.9 L535.1,344.1 L534.6,344.2 L534.1,344.3 L533.6,344.4 L533.1,344.5 L532.6,344.6 L532.1,344.7 L531.7,344.8 L531.2,344.8 L530.7,344.9 L530.3,345.0 L529.8,345.0 L529.3,345.1 L528.9,345.1 L528.4,345.2 L528.0,345.2 L527.5,345.2 L527.1,345.3 L526.6,345.3 L526.2,345.3 L525.8,345.3 L525.3,345.4 L524.9,345.4 L524.5,345.4 L524.1,345.4 L523.6,345.4 L523.2,345.4 L522.8,345.4 L522.4,345.4 L522.0,345.4 L521.6,345.4 L521.2,345.4 L520.8,345.4 L520.4,345.4 L520.0,345.4 L519.6,345.4 L519.2,345.4 L518.8,345.4 L518.4,345.4 L518.0,345.4 L517.6,345.4 L517.2,345.4 L516.8,345.4 L516.4,345.4 L516.0,345.4 L515.7,345.4 L515.3,345.4 L514.9,345.4 L514.5,345.4 L514.2,345.4 L513.8,345.4 L513.4,345.4 L513.1,345.4 L512.7,345.4 L512.4,345.4 L512.0,345.4 L511.7,345.4 L511.3,345.4 L511.0,345.4 L510.6,345.4 L510.3,345.3 L510.0,345.3 L509.6,345.3 L509.3,345.3 L509.0,345.3 L508.6,345.3 L508.3,345.2 L508.0,345.2 L507.6,345.2 L507.3,345.2 L507.0,345.2 L506.6,345.1 L506.3,345.1 L506.0,345.1 L505.7,345.1 L505.3,345.0 L505.0,345.0 L504.7,345.0 L504.3,344.9 L504.0,344.9 L503.7,344.9 L503.3,344.8 L503.0,344.8 L502.7,344.8 L502.3,344.7 L502.0,344.7 L501.7,344.6 L501.3,344.6 L501.0,344.6 L500.7,344.5 L500.3,344.5 L500.0,344.4 L499.7,344.4 L499.4,344.3 L499.0,344.3 L498.7,344.2 L498.4,344.2 L498.0,344.1 L497.7,344.1 L497.4,344.0 L497.1,344.0 L496.7,343.9 L496.4,343.8 L496.1,343.8 L495.8,343.7 L495.4,343.7 L495.1,343.6 L494.8,343.5 L494.5,343.5 L494.2,343.4 L493.8,343.3 L493.5,343.3 L493.2,343.2 L492.9,343.1 L492.6,343.1 L492.2,343.0 L491.9,342.9 L491.6,342.9 L491.3,342.8 L491.0,342.7 L490.6,342.6 L490.3,342.6 L490.0,342.5 L489.7,342.4 L489.4,342.4 L489.1,342.3 L488.8,342.2 L488.5,342.1 L488.2,342.1 L487.9,342.0 L487.7,341.9 L487.4,341.9 L487.1,341.8 L486.9,341.7 L486.6,341.6 L486.3,341.6 L486.1,341.5 L485.8,341.4 L485.6,341.4 L485.3,341.3 L485.0,341.2 L484.8,341.1 L484.5,341.0 L484.2,341.0 L484.0,340.9 L483.7,340.8 L483.4,340.7 L483.1,340.6 L482.8,340.5 L482.5,340.4 L482.2,340.3 L481.8,340.2 L481.5,340.1 L481.2,340.0 L480.8,339.9 L480.4,339.8 L480.1,339.7 L479.7,339.6 L479.3,339.4 L478.8,339.3 L478.4,339.2 L478.0,339.0 L477.5,338.9 L477.0,338.8 L476.5,338.6 L476.0,338.5 L475.5,338.3 L474.9,338.1 L474.4,338.0 L473.8,337.8 L473.2,337.6 L472.6,337.4 L472.0,337.2 L471.3,337.0 L470.7,336.8 L470.1,336.6 L469.4,336.4 L468.7,336.2 L468.1,336.0 L467.4,335.8 L466.7,335.6 L466.0,335.4 L465.4,335.2 L464.7,335.0 L464.0,334.8 L463.3,334.6 L462.6,334.4 L461.9,334.2 L461.2,333.9 L460.6,333.7 L459.9,333.5 L459.2,333.3 L458.5,333.1 L457.9,332.9 L457.2,332.7 L456.6,332.5 L456.0,332.3 L455.3,332.1 L454.7,331.9 L454.1,331.7 L453.5,331.6 L453.0,331.4 L452.4,331.2 L451.9,331.0 L451.3,330.9 L450.8,330.7 L450.3,330.5 L449.8,330.3 L449.3,330.2 L448.8,330.0 L448.3,329.8 L447.8,329.6 L447.3,329.5 L446.9,329.3 L446.4,329.1 L445.9,329.0 L445.5,328.8 L445.0,328.6 L444.6,328.5 L444.1,328.3 L443.7,328.2 L443.2,328.0 L442.8,327.8 L442.4,327.7 L441.9,327.5 L441.5,327.4 L441.0,327.2 L440.6,327.1 L440.1,326.9 L439.7,326.8 L439.2,326.6 L438.8,326.5 L438.3,326.3 L437.9,326.2 L437.4,326.0 L436.9,325.9 L436.4,325.8 L435.9,325.6 L435.5,325.5 L435.0,325.4 L434.4,325.2 L433.9,325.1 L433.4,325.0 L432.9,324.9 L432.3,324.8 L431.8,324.6 L431.2,324.5 L430.6,324.4 L430.0,324.3 L429.4,324.2 L428.8,324.1 L428.2,324.0 L427.6,323.9 L427.0,323.7 L426.4,323.6 L425.7,323.5 L425.1,323.4 L424.5,323.3 L423.8,323.2 L423.2,323.1 L422.6,323.0 L421.9,323.0 L421.3,322.9 L420.7,322.8 L420.0,322.7 L419.4,322.6 L418.8,322.5 L418.2,322.4 L417.6,322.4 L417.0,322.3 L416.4,322.2 L415.8,322.2 L415.2,322.1 L414.6,322.0 L414.1,322.0 L413.5,321.9 L413.0,321.9 L412.4,321.8 L411.9,321.8 L411.4,321.7 L410.9,321.7 L410.5,321.6 L410.0,321.6 L409.6,321.6 L409.1,321.5 L408.7,321.5 L408.3,321.5 L407.9,321.5 L407.5,321.5 L407.2,321.4 L406.8,321.4 L406.4,321.4 L406.1,321.4 L405.7,321.4 L405.4,321.4 L405.1,321.4 L404.8,321.4 L404.5,321.4 L404.2,321.5 L403.9,321.5 L403.6,321.5 L403.3,321.5 L403.0,321.5 L402.7,321.6 L402.4,321.6 L402.2,321.6 L401.9,321.6 L401.6,321.7 L401.4,321.7 L401.1,321.7 L400.8,321.8 L400.6,321.8 L400.3,321.9 L400.0,321.9 L399.8,322.0 L399.5,322.0 L399.2,322.1 L398.9,322.1 L398.7,322.2 L398.4,322.2 L398.1,322.3 L397.8,322.3 L397.5,322.4 L397.2,322.5 L396.9,322.5 L396.6,322.6 L396.3,322.7 L396.0,322.7 L395.7,322.8 L395.4,322.9 L395.1,323.0 L394.8,323.0 L394.5,323.1 L394.2,323.2 L393.9,323.3 L393.6,323.4 L393.4,323.5 L393.1,323.6 L392.8,323.7 L392.5,323.8 L392.2,323.9 L391.9,324.0 L391.6,324.1 L391.3,324.2 L391.0,324.3 L390.8,324.4 L390.5,324.5 L390.2,324.6 L389.9,324.7 L389.6,324.8 L389.3,325.0 L389.0,325.1 L388.8,325.2 L388.5,325.3 L388.2,325.4 L387.9,325.6 L387.7,325.7 L387.4,325.8 L387.1,326.0 L386.8,326.1 L386.5,326.2 L386.3,326.4 L386.0,326.5 L385.7,326.6 L385.5,326.8 L385.2,326.9 L384.9,327.1 L384.6,327.2 L384.4,327.4 L384.1,327.5 L383.8,327.7 L383.5,327.8 L383.3,328.0 L383.0,328.2 L382.7,328.3 L382.4,328.5 L382.2,328.7 L381.9,328.8 L381.6,329.0 L381.4,329.2 L381.1,329.4 L380.8,329.5 L380.6,329.7 L380.3,329.9 L380.0,330.1 L379.8,330.3 L379.5,330.4 L379.3,330.6 L379.0,330.8 L378.8,331.0 L378.5,331.2 L378.3,331.4 L378.0,331.6 L377.8,331.8 L377.5,331.9 L377.3,332.1 L377.0,332.3 L376.8,332.5 L376.6,332.7 L376.4,332.9 L376.1,333.1 L375.9,333.3 L375.7,333.5 L375.5,333.7 L375.3,333.9 L375.1,334.1 L374.9,334.3 L374.7,334.5 L374.5,334.7 L374.3,334.9 L374.1,335.1 L373.9,335.3 L373.8,335.5 L373.6,335.7 L373.4,336.0 L373.2,336.2 L373.1,336.4 L372.9,336.6 L372.7,336.8 L372.6,337.0 L372.4,337.2 L372.3,337.5 L372.1,337.7 L371.9,337.9 L371.8,338.1 L371.6,338.3 L371.5,338.6 L371.3,338.8 L371.1,339.0 L371.0,339.2 L370.8,339.5 L370.7,339.7 L370.5,339.9 L370.3,340.1 L370.2,340.4 L370.0,340.6 L369.9,340.8 L369.7,341.0 L369.5,341.3 L369.3,341.5 L369.2,341.7 L369.0,342.0 L368.8,342.2 L368.6,342.4 L368.4,342.7 L368.2,342.9 L368.0,343.2 L367.8,343.4 L367.6,343.7 L367.4,344.0 L367.2,344.2 L367.0,344.5 L366.7,344.8 L366.5,345.1 L366.3,345.4 L366.1,345.7 L365.8,345.9 L365.6,346.2 L365.4,346.5 L365.1,346.8 L364.9,347.1 L364.7,347.4 L364.5,347.6 L364.2,347.9 L364.0,348.2 L363.8,348.5 L363.6,348.7 L363.4,349.0 L363.2,349.3 L363.0,349.5 L362.8,349.7 L362.6,350.0 L362.4,350.2 L362.2,350.4 L362.1,350.6 L361.9,350.9 L361.8,351.1 L361.6,351.2 L361.5,351.4 L361.3,351.6 L361.2,351.7 L361.1,351.9 L361.0,352.0 Z" fill="#fff" stroke="#1a1a1a" stroke-width="1.6"/>
<path d="M308.4,342.6 Q342.4,334.9 362.8,349.8 M310.3,338.4 Q344.5,331.8 364.6,347.5 M312.5,334.2 Q346.6,328.8 366.3,345.3 M314.9,329.8 Q348.9,325.7 368.1,343.1 M317.7,325.5 Q351.2,322.7 369.9,340.8 M320.9,321.1 Q353.8,319.9 371.5,338.5 M324.6,316.9 Q356.9,317.7 373.2,336.2 M329.0,313.0 Q360.7,316.3 375.1,334.0 M333.9,309.4 Q363.8,314.3 377.3,332.2 M338.7,305.5 Q366.9,312.0 379.5,330.4 M343.8,301.5 Q370.4,310.1 381.9,328.8 M349.4,297.9 Q374.1,308.7 384.4,327.4 M355.5,294.7 Q377.7,307.2 386.9,326.1 M361.9,291.6 Q381.4,305.9 389.5,324.9 M368.7,288.9 Q385.3,304.7 392.2,323.9 M375.9,286.7 Q389.2,303.9 394.9,323.0 M383.4,284.9 Q393.2,303.1 397.7,322.4 M391.2,283.3 Q397.2,302.3 400.5,321.8 M399.2,282.1 Q401.3,301.8 403.3,321.5 M414.5,281.4 Q407.5,301.3 408.6,321.5 M418.4,281.6 Q411.2,301.4 412.3,321.8 M422.2,281.9 Q414.8,301.6 415.9,322.2 M426.1,282.3 Q418.5,301.9 419.4,322.6 M429.9,282.8 Q422.1,302.3 423.0,323.1 M433.7,283.5 Q425.7,302.8 426.6,323.7 M437.5,284.1 Q429.4,303.4 430.2,324.3 M441.3,284.9 Q433.0,304.0 433.7,325.1 M445.1,285.8 Q436.6,304.6 437.2,326.0 M448.8,286.7 Q440.1,305.5 440.7,327.1 M452.6,287.7 Q443.6,306.4 444.1,328.3 M456.7,288.9 Q447.8,307.8 448.0,329.7 M460.8,290.3 Q451.9,309.2 452.0,331.1 M465.0,291.7 Q456.1,310.6 456.0,332.3 M469.0,293.1 Q460.3,312.0 460.0,333.6 M473.1,294.5 Q464.5,313.4 464.1,334.8 M477.3,295.9 Q468.7,314.7 468.1,336.0 M480.8,297.1 Q473.4,316.2 473.9,337.8 M484.3,298.2 Q478.1,317.6 479.7,339.6 M487.8,299.4 Q482.7,319.1 485.5,341.3 M491.4,300.6 Q487.3,320.6 491.4,342.8 M494.9,301.7 Q492.0,321.9 497.4,344.0 M498.5,302.7 Q496.8,323.1 503.4,344.8 M502.2,303.4 Q501.6,324.0 509.5,345.3 M506.4,303.9 Q506.3,324.5 516.8,345.4 M510.7,304.0 Q510.9,324.8 524.1,345.4 M515.2,303.7 Q516.5,325.2 532.4,344.6 M519.6,303.3 Q522.2,324.6 540.5,342.6 M524.0,302.7 Q528.7,323.2 548.9,339.7 M528.4,302.1 Q535.0,321.7 557.0,336.3 M531.7,301.5 Q540.4,319.9 563.9,332.3 M535.0,300.8 Q545.5,317.7 570.4,327.6 M539.4,299.6 Q551.8,314.7 577.6,321.4 M543.7,298.0 Q558.0,311.2 583.7,314.0 M546.8,295.8 Q563.0,307.8 587.0,308.2 M549.2,292.8 Q566.7,303.0 589.3,301.9 M552.0,287.0 Q570.6,295.5 591.0,294.6" stroke="#1a1a1a" stroke-width="1.5" fill="none"/>
<ellipse cx="575.5" cy="282" rx="22.5" ry="6.5" fill="#fff"/>
<path d="M552.8,284 C555,277 566,275.2 577,275.4 C589,275.8 597,279 598.2,283 C598.8,286 597,288 595,288 M554.5,285.5 C559,279.5 568,278 577,278.2 C587,278.6 594,281 595.5,284.5" stroke="#1a1a1a" stroke-width="1.5" fill="none"/>
</svg>
</body></html>
